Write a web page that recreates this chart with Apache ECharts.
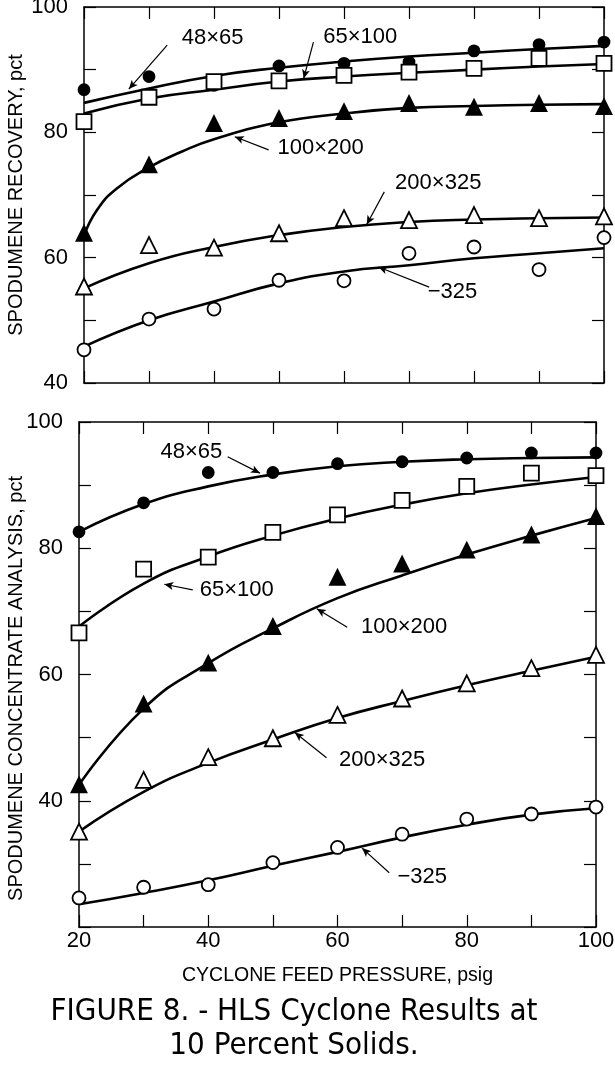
<!DOCTYPE html>
<html>
<head>
<meta charset="utf-8">
<script src="https://cdn.jsdelivr.net/npm/echarts@6/dist/echarts.min.js"></script>
<style>
html,body{margin:0;padding:0;background:#fff;}
#chart{width:615px;height:1067px;}
</style>
</head>
<body>
<div id="chart"></div>
<script>
// ---------- data ----------
const pressure = [20, 30, 40, 50, 60, 70, 80, 90, 100];
const sizeClasses = ['48×65', '65×100', '100×200', '200×325', '−325'];

// Top panel: spodumene recovery, pct (measured points)
const rec48x65  = [86.8, 88.9, 87.5, 90.6, 91.0, 91.2, 93.0, 94.0, 94.4];
const rec65x100 = [81.7, 85.6, 88.1, 88.2, 89.1, 89.6, 90.2, 91.8, 91.0];
const rec100x200 = [63.9, 74.8, 81.4, 82.2, 83.3, 84.6, 84.0, 84.6, 84.1];
const rec200x325 = [55.4, 62.0, 61.6, 63.9, 66.3, 66.0, 66.8, 66.3, 66.6];
const recMinus325 = [45.3, 50.2, 51.8, 56.4, 56.3, 60.7, 61.7, 58.1, 63.2];

// Top panel: fitted curves
const curvePressure = [20, 30, 40, 50, 60, 70, 80, 90, 100];
const curve100Pressure = [20, 22, 25, 30, 35, 40, 50, 60, 70, 80, 90, 100];
const recFit48x65  = [84.7, 87.0, 89.0, 90.3, 91.3, 92.1, 92.7, 93.3, 93.8];
const recFit65x100 = [83.0, 85.4, 86.8, 88.1, 88.9, 89.5, 90.0, 90.5, 90.9];
const recFit100x200 = [63.5, 67.6, 71.0, 74.4, 76.9, 78.9, 81.6, 83.0, 83.9, 84.2, 84.4, 84.5];
const recFit200x325 = [55.1, 59.1, 61.7, 63.6, 64.9, 65.7, 66.1, 66.3, 66.4];
const recFitMinus325 = [45.8, 50.0, 53.0, 55.9, 57.8, 58.8, 59.9, 60.7, 61.5];

// Bottom panel: spodumene concentrate analysis, pct (measured points)
const con48x65  = [82.6, 87.2, 92.0, 92.0, 93.4, 93.7, 94.3, 95.1, 95.1];
const con65x100 = [66.6, 76.7, 78.6, 82.5, 85.3, 87.6, 89.8, 91.9, 91.5];
const con100x200 = [42.5, 55.3, 61.8, 67.6, 75.4, 77.5, 79.7, 82.1, 85.0];
const con200x325 = [35.1, 43.3, 46.9, 49.9, 53.6, 56.2, 58.6, 61.0, 63.1];
const conMinus325 = [24.6, 26.3, 26.7, 30.2, 32.6, 34.7, 37.1, 37.9, 39.0];

// Bottom panel: fitted curves
const conFit48x65  = [82.6, 87.0, 89.8, 91.7, 93.0, 93.7, 94.1, 94.3, 94.4];
const conFit65x100 = [67.6, 74.4, 78.7, 82.0, 84.7, 86.9, 88.7, 90.1, 91.3];
const conFit100x200 = [42.5, 54.6, 61.8, 67.3, 72.1, 75.7, 79.0, 82.0, 84.8];
const conFit200x325 = [35.1, 41.4, 46.0, 49.7, 53.1, 55.8, 58.3, 60.6, 62.8];
const conFitMinus325 = [23.6, 25.4, 27.4, 29.7, 31.9, 34.2, 36.2, 37.8, 38.8];

// Tick labels
const xTickLabels = [20, 40, 60, 80, 100];
const recTickLabels = [40, 60, 80, 100];
const conTickLabels = [40, 60, 80, 100];

// Curve callouts: [label position], [arrow start], [arrow end] in data units
const recCallouts = [
  [[39.8, 95.0], [32.8, 93.9], [26.9, 86.9]],
  [[62.5, 95.3], [55.3, 94.4], [53.8, 88.6]],
  [[56.4, 77.5], [48.4, 77.2], [43.2, 79.3]],
  [[74.5, 71.9], [66.2, 70.5], [63.5, 65.3]],
  [[76.7, 54.5], [73.1, 55.3], [65.3, 58.5]]
];
const conCallouts = [
  [[37.4, 95.3], [43.0, 94.5], [48.0, 91.9]],
  [[44.4, 73.4], [37.6, 73.4], [33.2, 74.3]],
  [[70.3, 67.5], [61.5, 67.5], [56.8, 70.4]],
  [[66.9, 46.5], [58.3, 46.8], [53.4, 50.8]],
  [[73.1, 27.9], [68.0, 28.6], [63.8, 32.5]]
];

// ---------- chart ----------
const BLACK = '#000';
const NUMFONT = "'Liberation Sans', Arial, sans-serif";
const CAPFONT = "31px 'DejaVu Sans Condensed', 'Liberation Sans Narrow', 'DejaVu Sans', sans-serif";
const chart = echarts.init(document.getElementById('chart'), null, {renderer: 'canvas'});

function pairs(xs, ys) { return xs.map((x, i) => [x, ys[i]]); }

const markerStyles = [
  {symbol: 'circle', symbolSize: 11, fill: BLACK},
  {symbol: 'rect', symbolSize: 15, fill: '#fff'},
  {symbol: 'triangle', symbolSize: 15, fill: BLACK},
  {symbol: 'triangle', symbolSize: 16, fill: '#fff'},
  {symbol: 'circle', symbolSize: 13, fill: '#fff'}
];

function axisCommon(extra) {
  return Object.assign({
    type: 'value',
    interval: 10,
    nameMoveOverlap: false,
    axisLine: {show: true, onZero: false, lineStyle: {color: BLACK, width: 1.5}},
    axisTick: {show: true, inside: true, length: 12, lineStyle: {color: BLACK, width: 1.2}},
    splitLine: {show: false},
    axisLabel: {show: false}
  }, extra);
}

function labelFormatter(list) {
  return function (v) { return list.indexOf(v) >= 0 ? String(v) : ''; };
}

const series = [];
function addPanel(idx, points, fits, fitXs, callouts) {
  points.forEach((ys, k) => {
    const m = markerStyles[k];
    // fitted curve
    series.push({
      type: 'line',
      xAxisIndex: idx * 2, yAxisIndex: idx * 2,
      data: pairs(fitXs[k], fits[k]),
      smooth: 0.5,
      showSymbol: false,
      lineStyle: {color: BLACK, width: 2.6},
      z: 2,
      silent: true,
      markLine: {
        silent: true,
        symbol: ['none', 'arrow'],
        symbolSize: [6, 9],
        lineStyle: {color: BLACK, width: 1.2, type: 'solid'},
        label: {show: false},
        data: [[{coord: callouts[k][1]}, {coord: callouts[k][2]}]]
      },
      markPoint: {
        silent: true,
        symbol: 'circle', symbolSize: 0,
        label: {show: true, position: 'inside', color: BLACK, fontSize: 22,
                fontFamily: NUMFONT, formatter: sizeClasses[k]},
        data: [{coord: callouts[k][0]}]
      }
    });
    // measured points
    series.push({
      type: 'scatter',
      xAxisIndex: idx * 2, yAxisIndex: idx * 2,
      data: pairs(pressure, ys),
      symbol: m.symbol,
      symbolSize: m.symbolSize,
      itemStyle: {color: m.fill, borderColor: BLACK, borderWidth: 1.8, opacity: 1},
      z: 5,
      silent: true
    });
  });
}

addPanel(0,
  [rec48x65, rec65x100, rec100x200, rec200x325, recMinus325],
  [recFit48x65, recFit65x100, recFit100x200, recFit200x325, recFitMinus325],
  [curvePressure, curvePressure, curve100Pressure, curvePressure, curvePressure],
  recCallouts);
addPanel(1,
  [con48x65, con65x100, con100x200, con200x325, conMinus325],
  [conFit48x65, conFit65x100, conFit100x200, conFit200x325, conFitMinus325],
  [curvePressure, curvePressure, curvePressure, curvePressure, curvePressure],
  conCallouts);

const option = {
  backgroundColor: '#fff',
  animation: false,
  grid: [
    {left: 84, width: 520, top: 7, height: 376, outerBoundsMode: 'none', containLabel: false},
    {left: 79, width: 517, top: 422, height: 505, outerBoundsMode: 'none', containLabel: false}
  ],
  xAxis: [
    axisCommon({gridIndex: 0, position: 'bottom', min: 20, max: 100}),
    axisCommon({gridIndex: 0, position: 'top', min: 20, max: 100}),
    axisCommon({gridIndex: 1, position: 'bottom', min: 20, max: 100,
      axisLabel: {show: true, color: BLACK, fontSize: 22, fontFamily: NUMFONT, margin: 3,
                  formatter: labelFormatter(xTickLabels)},
      name: 'CYCLONE FEED PRESSURE, psig', nameLocation: 'middle', nameGap: 39,
      nameTextStyle: {color: BLACK, fontSize: 19.5, fontFamily: NUMFONT}}),
    axisCommon({gridIndex: 1, position: 'top', min: 20, max: 100})
  ],
  yAxis: [
    axisCommon({gridIndex: 0, position: 'left', min: 40, max: 100,
      axisLabel: {show: true, color: BLACK, fontSize: 22, fontFamily: NUMFONT, margin: 16,
                  formatter: labelFormatter(recTickLabels)},
      name: 'SPODUMENE RECOVERY, pct', nameLocation: 'middle', nameGap: 58,
      nameTextStyle: {color: BLACK, fontSize: 20, fontFamily: NUMFONT}}),
    axisCommon({gridIndex: 0, position: 'right', min: 40, max: 100}),
    axisCommon({gridIndex: 1, position: 'left', min: 20, max: 100,
      axisLabel: {show: true, color: BLACK, fontSize: 22, fontFamily: NUMFONT, margin: 16,
                  formatter: labelFormatter(conTickLabels)},
      name: 'SPODUMENE CONCENTRATE ANALYSIS, pct', nameLocation: 'middle', nameGap: 53,
      nameTextStyle: {color: BLACK, fontSize: 20, fontFamily: NUMFONT, padding: [0, 28, 0, 0]}}),
    axisCommon({gridIndex: 1, position: 'right', min: 20, max: 100})
  ],
  graphic: [
    {type: 'text', x: 294, y: 996,
     style: {text: 'FIGURE 8. - HLS Cyclone Results at', fill: BLACK, align: 'center', font: CAPFONT}},
    {type: 'text', x: 294, y: 1030,
     style: {text: '10 Percent Solids.', fill: BLACK, align: 'center', font: CAPFONT}}
  ],
  series: series
};
chart.setOption(option);
</script>
</body>
</html>
